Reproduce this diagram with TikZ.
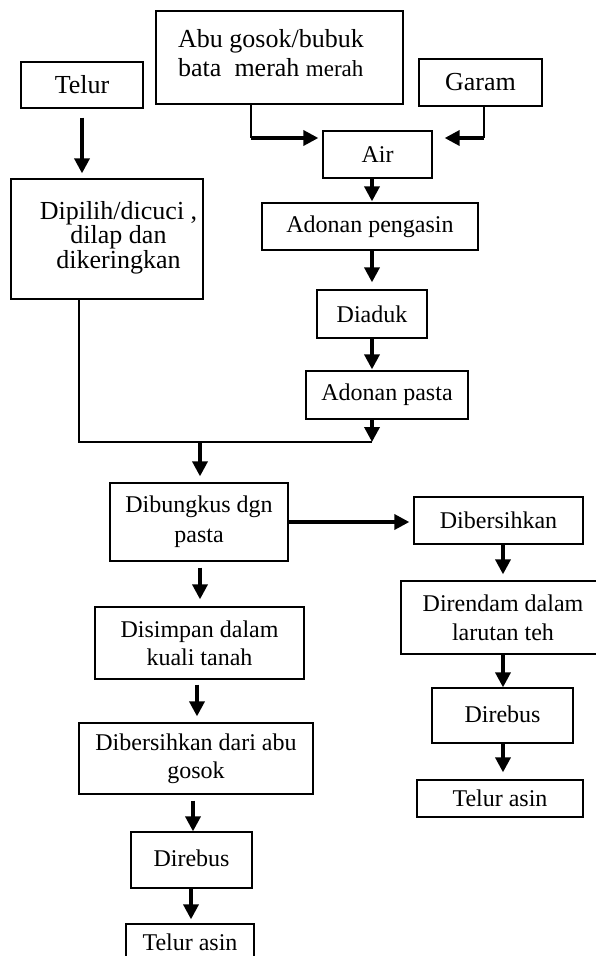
\documentclass[tikz,border=0pt]{standalone}
\usepackage{fontspec}
\setmainfont{Liberation Serif}
\usetikzlibrary{arrows.meta}
\begin{document}
\begin{tikzpicture}[x=1pt,y=-1pt,
  box/.style={draw, line width=1.3pt, inner sep=0pt, align=center, font=\fontsize{24}{29}\selectfont},
  txt/.style={inner sep=0pt, align=center, font=\fontsize{24}{29}\selectfont},
  big/.style={font=\fontsize{26}{29}\selectfont},
  arr/.style={line width=3.5pt, -{Triangle[length=15pt,width=15pt]}},
  thinl/.style={line width=1.5pt}]
\useasboundingbox (0,0) rectangle (596,956);
\clip (0,0) rectangle (596,956);
% boxes
\node[box, minimum width=247pt, minimum height=93pt] (abu) at (279.5,57.5) {};
\node[txt, big, align=left] (abut) at (271,53) {Abu gosok/bubuk\\bata~~merah {\fontsize{23}{29}\selectfont merah}};
\node[box, big, minimum width=122pt, minimum height=46pt] (telur) at (82,85) {\raisebox{-4pt}{Telur}};
\node[box, big, minimum width=123pt, minimum height=47pt] (garam) at (480.5,82.5) {\raisebox{-2pt}{Garam}};
\node[box, minimum width=109pt, minimum height=47pt] (air) at (377.5,154.5) {Air};
\node[box, minimum width=216pt, minimum height=47pt] (pengasin) at (370,226.5) {Adonan pengasin};
\node[box, minimum width=192pt, minimum height=120pt] (dipilih) at (107,239) {};
\node[txt, font=\fontsize{26}{24.5}\selectfont] (dipiliht) at (118.5,237.5) {Dipilih/dicuci ,\\dilap dan\\dikeringkan};
\node[box, minimum width=110pt, minimum height=48pt] (diaduk) at (372,314) {Diaduk};
\node[box, minimum width=162pt, minimum height=48pt] (pasta) at (387,395) {Adonan pasta};
\node[box, minimum width=178pt, minimum height=78pt, font=\fontsize{24}{30}\selectfont] (dibungkus) at (199,522) {Dibungkus dgn\\pasta};
\node[box, minimum width=169pt, minimum height=47pt] (dibersihkan) at (498.5,520.5) {Dibersihkan};
\node[box, minimum width=204pt, minimum height=73pt] (direndam) at (503,617.5) {Direndam dalam\\larutan teh};
\node[box, minimum width=141pt, minimum height=55pt] (direbusR) at (502.5,715.5) {\raisebox{3pt}{Direbus}};
\node[box, minimum width=166pt, minimum height=37pt] (telurasinR) at (500,798.5) {Telur asin};
\node[box, minimum width=209pt, minimum height=72pt, font=\fontsize{24}{28}\selectfont] (disimpan) at (199.5,643) {Disimpan dalam\\kuali tanah};
\node[box, minimum width=234pt, minimum height=71pt, font=\fontsize{24}{28}\selectfont] (dibabu) at (196,758.5) {Dibersihkan dari abu\\gosok};
\node[box, minimum width=121pt, minimum height=56pt] (direbusL) at (191.5,860) {\raisebox{3pt}{Direbus}};
\node[box, minimum width=128pt, minimum height=37pt] (telurasinL) at (190,942.5) {Telur asin};
% helper coordinates
\coordinate (cA) at (372,0);
\coordinate (cB) at (200,0);
\coordinate (cR) at (503,0);
\coordinate (cL1) at (197,0);
\coordinate (cL2) at (193,0);
\coordinate (cL3) at (191,0);
\coordinate (j1) at (251,138);
\coordinate (j2) at (484,138);
\coordinate (jL) at (79,442);
\coordinate (jR) at (372,442);
% connectors
\draw[arr, shorten <=9pt, shorten >=5pt] (telur.south) -- (telur.south |- dipilih.north);
\draw[thinl] (abu.south -| j1) -- (j1);
\draw[arr, shorten >=4pt] (j1) -- (j1 -| air.west);
\draw[thinl] (garam.south -| j2) -- (j2);
\draw[arr, shorten >=12pt] (j2) -- (j2 -| air.east);
\draw[arr, shorten >=1pt] (air.south -| cA) -- (pengasin.north -| cA);
\draw[arr, shorten >=7pt] (pengasin.south -| cA) -- (diaduk.north -| cA);
\draw[arr, shorten >=1pt] (diaduk.south -| cA) -- (pasta.north -| cA);
\draw[thinl] (dipilih.south -| jL) -- (jL) -- (jR);
\draw[arr] (pasta.south -| cA) -- (jR);
\draw[arr, shorten >=6pt] (jL -| cB) -- (dibungkus.north -| cB);
\draw[arr, shorten >=4pt] (dibungkus.east) -- (dibungkus.east -| dibersihkan.west);
\draw[arr, shorten >=6pt] (dibersihkan.south -| cR) -- (direndam.north -| cR);
\draw[arr] (direndam.south -| cR) -- (direbusR.north -| cR);
\draw[arr, shorten >=7pt] (direbusR.south -| cR) -- (telurasinR.north -| cR);
\draw[arr, shorten <=6pt, shorten >=7pt] (dibungkus.south -| cB) -- (disimpan.north -| cB);
\draw[arr, shorten <=5pt, shorten >=6pt] (disimpan.south -| cL1) -- (dibabu.north -| cL1);
\draw[arr, shorten <=6pt] (dibabu.south -| cL2) -- (direbusL.north -| cL2);
\draw[arr, shorten >=4pt] (direbusL.south -| cL3) -- (telurasinL.north -| cL3);
\end{tikzpicture}
\end{document}
